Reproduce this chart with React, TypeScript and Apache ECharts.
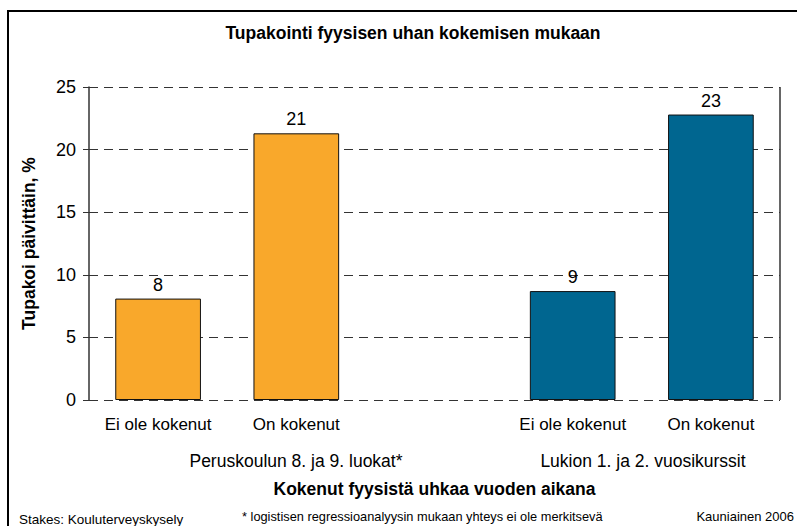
import React, { useEffect, useRef } from "react";
import * as echarts from "echarts";

const categories = ["Ei ole kokenut", "On kokenut", "", "Ei ole kokenut", "On kokenut"];
const values: (number | null)[] = [8.1, 21.3, null, 8.7, 22.8];
const barColors = ["#F9A82B", "#F9A82B", "#F9A82B", "#006690", "#006690"];
const groupLabels = ["Peruskoulun 8. ja 9. luokat*", "Lukion 1. ja 2. vuosikurssit"];
const yTicks = { min: 0, max: 25, interval: 5 };

const FONT = "'Liberation Sans', Arial, sans-serif";

export default function App() {
  const ref = useRef<HTMLDivElement>(null);
  useEffect(() => {
    if (!ref.current) return;
    const chart = echarts.init(ref.current, null, { renderer: "svg" });
    chart.setOption({
      animation: false,
      backgroundColor: "#ffffff",
      textStyle: { fontFamily: FONT },
      title: {
        text: "Tupakointi fyysisen uhan kokemisen mukaan",
        left: 408,
        textAlign: "center",
        top: 19,
        textStyle: { fontFamily: FONT, fontSize: 17.5, fontWeight: "bold", color: "#000" },
      },
      grid: { left: 89, right: 17, top: 87, bottom: 126, containLabel: false },
      xAxis: {
        type: "category",
        data: categories,
        axisLine: { show: false },
        axisTick: { show: false },
        axisLabel: { color: "#000", fontSize: 17, margin: 16, fontFamily: FONT, interval: 0 },
        name: "Kokenut fyysistä uhkaa vuoden aikana",
        nameLocation: "middle",
        nameGap: 80,
        nameTextStyle: { fontFamily: FONT, fontSize: 17.5, fontWeight: "bold", color: "#000" },
      },
      yAxis: {
        type: "value",
        min: yTicks.min,
        max: yTicks.max,
        interval: yTicks.interval,
        axisLine: { show: true, lineStyle: { color: "#333", width: 1.5 } },
        axisTick: { show: true, length: 6, lineStyle: { color: "#333" } },
        axisLabel: { color: "#000", fontSize: 18, margin: 13, fontFamily: FONT },
        splitLine: { show: true, lineStyle: { color: "#333", type: [9, 6], width: 1 } },
        name: "Tupakoi päivittäin, %",
        nameLocation: "middle",
        nameRotate: 90,
        nameGap: 51,
        nameTextStyle: { fontFamily: FONT, fontSize: 17.5, fontWeight: "bold", color: "#000" },
      },
      series: [
        {
          type: "bar",
          barWidth: "62%",
          data: values.map((v, i) => ({
            value: v,
            itemStyle: { color: barColors[i], borderColor: "#111", borderWidth: 1 },
          })),
          label: {
            show: true,
            position: "top",
            distance: 5,
            color: "#000",
            fontSize: 18,
            fontFamily: FONT,
            formatter: (p: any) => (p.value == null ? "" : String(Math.round(p.value))),
          },
        },
      ],
      graphic: [
        {
          type: "rect",
          shape: { x: 8, y: 11, width: 820, height: 540 },
          style: { fill: "none", stroke: "#000", lineWidth: 2 },
          silent: true,
        },
        {
          type: "line",
          shape: { x1: 780, y1: 87, x2: 780, y2: 400 },
          style: { stroke: "#333", lineWidth: 1.5 },
        },
        {
          type: "text",
          x: 296,
          y: 461,
          style: { text: groupLabels[0], fontFamily: FONT, fontSize: 17.5, fill: "#000", align: "center", verticalAlign: "middle" },
        },
        {
          type: "text",
          x: 643,
          y: 461,
          style: { text: groupLabels[1], fontFamily: FONT, fontSize: 17.5, fill: "#000", align: "center", verticalAlign: "middle" },
        },
        {
          type: "text",
          x: 19,
          y: 519,
          style: { text: "Stakes: Kouluterveyskysely", fontFamily: FONT, fontSize: 13.5, fill: "#000", verticalAlign: "middle" },
        },
        {
          type: "text",
          x: 242,
          y: 516,
          style: { text: "* logistisen regressioanalyysin mukaan yhteys ei ole merkitsevä", fontFamily: FONT, fontSize: 12.8, fill: "#000", verticalAlign: "middle" },
        },
        {
          type: "text",
          x: 794,
          y: 516,
          style: { text: "Kauniainen 2006", fontFamily: FONT, fontSize: 13, fill: "#000", align: "right", verticalAlign: "middle" },
        },
      ],
    });
    return () => chart.dispose();
  }, []);
  return <div ref={ref} style={{ width: 797, height: 526, position: "absolute", left: 0, top: 0 }} />;
}
